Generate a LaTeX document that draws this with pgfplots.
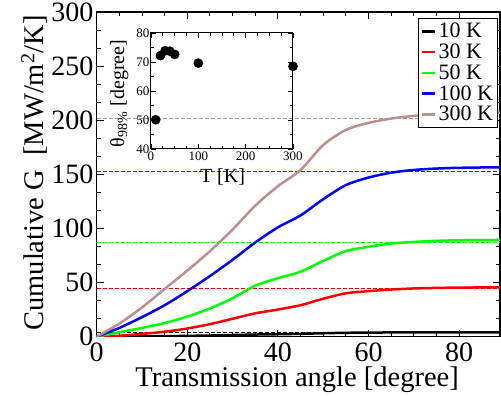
\documentclass[border=0pt]{standalone}
\usepackage{fontspec}
\setmainfont{Liberation Serif}
\usepackage{pgfplots}
\pgfplotsset{compat=1.18}
\definecolor{rbrown}{RGB}{188,143,143}
\definecolor{pgreen}{RGB}{0,255,0}
\definecolor{dblue}{RGB}{40,40,255}
\begin{document}
\begin{tikzpicture}
\begin{axis}[
  at={(0pt,0pt)}, anchor=south west,
  scale only axis, width=403.2pt, height=324.6pt,
  xmin=0, xmax=89, ymin=0, ymax=300,
  xtick={0,20,...,80}, ytick={0,50,...,300},
  minor x tick num=3, minor y tick num=2,
  tick align=inside, major tick length=7pt, minor tick length=4pt,
  axis line style={line width=1.5pt},
  every tick/.style={line width=1pt, black},
  /pgf/number format/assume math mode=true,
  ticklabel style={font=\fontsize{28}{28}\selectfont, inner sep=0pt},
  xticklabel style={anchor=base, yshift=-25pt},
  yticklabel style={anchor=east, xshift=-3pt},
  xlabel={Transmission angle [degree]},
  ylabel={Cumulative G\ \ [MW/m\textsuperscript{2}/K]},
  label style={font=\fontsize{28.5}{30}\selectfont},
  xlabel style={at={(axis description cs:0.497,-0.153)}, anchor=base},
  ylabel style={at={(axis description cs:-0.132,0.504)}, anchor=base},
  legend style={at={(rel axis cs:0.996,0.9815)}, anchor=north east,
    font=\fontsize{22}{22}\selectfont, draw=black, line width=1pt,
    inner sep=2pt, nodes={inner sep=2.8pt}, row sep=-1pt},
  legend cell align=left,
  legend image code/.code={\draw[#1, line width=2.5pt] (0pt,0pt) -- (13pt,0pt);},
]
% 98% dashed lines
\addplot[black, line width=0.8pt, dash pattern=on 4pt off 2pt, forget plot] coordinates {(0,3.9) (89,3.9)};
\addplot[red, line width=1pt, dash pattern=on 4pt off 2pt, forget plot] coordinates {(0,44.5) (89,44.5)};
\addplot[pgreen, line width=1pt, dash pattern=on 4pt off 2pt, forget plot] coordinates {(0,87.4) (89,87.4)};
\addplot[dblue, line width=1.3pt, dash pattern=on 4pt off 2pt, forget plot] coordinates {(0,152.8) (89,152.8)};
\addplot[rbrown, line width=1pt, dash pattern=on 4pt off 2pt, forget plot] coordinates {(0,202) (89,202)};
% curves
\addplot[black, line width=2.5pt, smooth, tension=0.5] coordinates {
(0,0) (5,0.07) (10,0.2) (15,0.4) (20,0.66) (25,1.0) (30,1.45) (35,1.9) (40,2.2) (45,2.55) (50,3.1) (55,3.5) (60,3.7) (65,3.83) (70,3.9) (75,3.95) (80,4.0) (89,4.0)};
\addlegendentry{10 K}
\addplot[red, line width=2.5pt, smooth, tension=0.5] coordinates {
(0,0) (5,0.8) (10,2.5) (15,4.5) (20,7.5) (25,11.5) (30,16.5) (35,21.5) (40,25) (45,29) (50,35) (55,40) (60,42) (65,43.5) (70,44.5) (75,45) (80,45.3) (89,45.5)};
\addlegendentry{30 K}
\addplot[pgreen, line width=2.5pt, smooth, tension=0.5] coordinates {
(0,0) (5,4) (10,8) (15,12.5) (20,18.5) (25,26) (30,35.5) (35,47) (40,54) (45,60) (50,70) (55,79) (60,83) (65,86) (70,87.5) (75,88.5) (80,89) (89,89.3)};
\addlegendentry{50 K}
\addplot[blue, line width=2.5pt, smooth, tension=0.5] coordinates {
(0,0) (5,8) (10,18) (15,29) (20,42) (25,56) (30,71) (35,87) (40,101) (45,112) (50,127) (55,140) (60,147) (65,151.5) (70,154) (75,155.3) (80,156) (89,156.5)};
\addlegendentry{100 K}
\addplot[rbrown, line width=2.5pt, smooth, tension=0.5] coordinates {
(0,0) (5,12) (10,27) (15,44) (20,61) (25,79) (30,99) (35,121) (40,139) (45,154) (50,177) (55,191) (60,197.5) (65,201.5) (70,204) (75,205.5) (80,206.3) (89,207)};
\addlegendentry{300 K}
\end{axis}
\begin{axis}[
  at={(54.3pt,187.6pt)}, anchor=south west,
  scale only axis, width=142pt, height=116pt,
  xmin=0, xmax=300, ymin=40, ymax=80,
  xtick={0,100,200,300}, ytick={40,50,...,80},
  minor x tick num=3, minor y tick num=1,
  tick align=inside, major tick length=5pt, minor tick length=3pt,
  axis line style={line width=1pt},
  every tick/.style={line width=0.8pt, black},
  clip=false,
  /pgf/number format/assume math mode=true,
  ticklabel style={font=\fontsize{13}{13}\selectfont, inner sep=0pt},
  xticklabel style={anchor=base, yshift=-11.7pt},
  yticklabel style={anchor=east, xshift=-1.5pt},
  xlabel={T [K]},
  ylabel={θ\textsubscript{98\%} [degree]},
  label style={font=\fontsize{20}{20}\selectfont},
  xlabel style={at={(axis description cs:0.5035,-0.29)}, anchor=base},
  ylabel style={at={(axis description cs:-0.19,0.478)}, anchor=base},
]
\addplot[only marks, mark=*, mark size=4.6pt, black] coordinates {
(10,50.1) (20,72.2) (30,73.9) (40,73.7) (50,72.6) (100,69.6) (300,68.5)};
\end{axis}
\pgfresetboundingbox
\path[use as bounding box] (-96.7pt,-59.4pt) rectangle (404.3pt,336.6pt);
\end{tikzpicture}
\end{document}
